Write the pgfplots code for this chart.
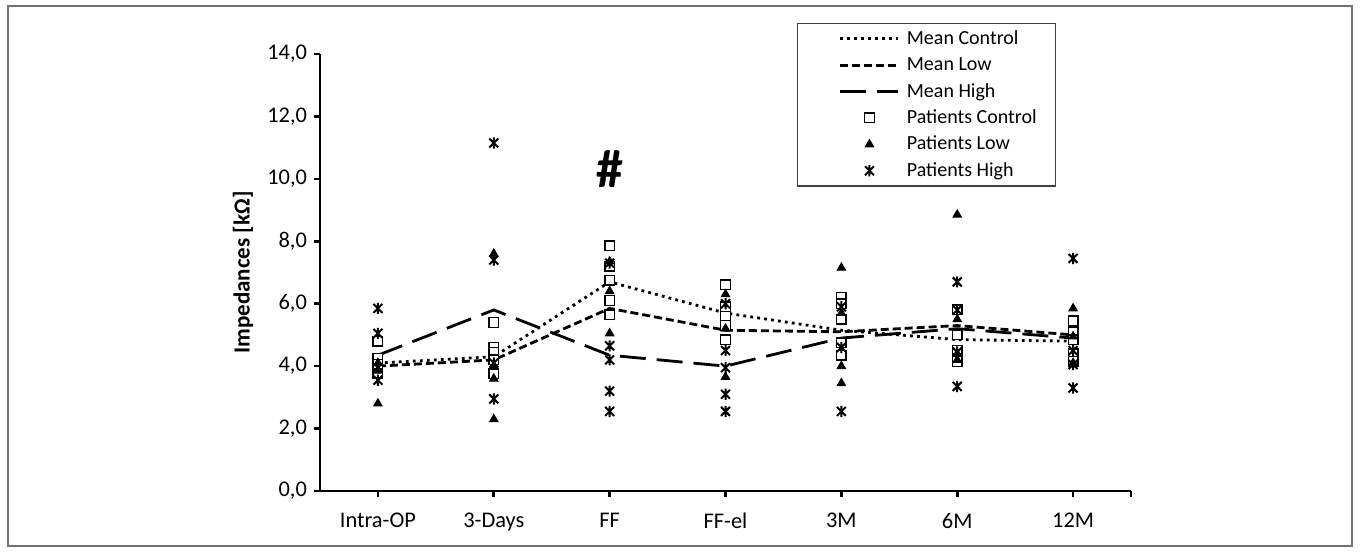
\documentclass[border=0pt]{standalone}
\usepackage{pgfplots}
\pgfplotsset{compat=1.18}
\usepackage{fontspec}
\setmainfont{Carlito}

% Excel-like star marker: an X with a vertical bar through it
\pgfdeclareplotmark{xstar}{%
  \pgfpathmoveto{\pgfqpoint{0pt}{-\pgfplotmarksize}}%
  \pgfpathlineto{\pgfqpoint{0pt}{\pgfplotmarksize}}%
  \pgfpathmoveto{\pgfqpoint{-0.8\pgfplotmarksize}{-0.8\pgfplotmarksize}}%
  \pgfpathlineto{\pgfqpoint{0.8\pgfplotmarksize}{0.8\pgfplotmarksize}}%
  \pgfpathmoveto{\pgfqpoint{-0.8\pgfplotmarksize}{0.8\pgfplotmarksize}}%
  \pgfpathlineto{\pgfqpoint{0.8\pgfplotmarksize}{-0.8\pgfplotmarksize}}%
  \pgfusepathqstroke}

\begin{document}
\begin{tikzpicture}
\path (0pt,0pt) rectangle (680pt,276pt);
\draw[black!55, line width=0.8pt] (4pt,3pt) rectangle (676pt,273pt);
\begin{axis}[
    at={(160pt,30.5pt)}, anchor=south west,
    scale only axis, width=405.5pt, height=218.5pt,
    xmin=-0.5, xmax=6.5, ymin=0, ymax=14,
    clip=false,
    axis x line*=bottom, axis y line*=left,
    axis line style={line width=1.3pt, black},
    tick style={line width=1.3pt, black},
    tick align=outside, major tick length=3pt,
    xtick={0,1,2,3,4,5,6,6.5},
    xticklabels={Intra-OP,3-Days,FF,FF-el,3M,6M,12M,},
    ytick={0,2,...,14},
    yticklabel style={/pgf/number format/.cd, fixed, fixed zerofill, precision=1, use comma, assume math mode=true},
    ticklabel style={font=\fontsize{11.2}{13}\selectfont},
    xticklabel style={yshift=-4.5pt},
    ylabel={Impedances [kΩ]},
    ylabel style={font=\fontsize{11.5}{13}\selectfont\bfseries, at={(rel axis cs:-0.095,0.5)}, anchor=center},
    legend image code/.code={\path[draw=none] (0pt,0pt) -- (1pt,0pt);
      \draw[mark repeat=2, mark phase=2, #1] plot coordinates {(12pt,0pt) (26.5pt,0pt) (41pt,0pt)};},
    legend style={at={(0.588,1.071)}, anchor=north west, draw=black!75, line width=0.6pt,
      inner xsep=9.5pt, inner ysep=1pt, row sep=0pt, column sep=3.5pt,
      font=\fontsize{10}{12}\selectfont,
      nodes={inner sep=0pt, minimum height=13.2pt}},
    legend cell align=left
]
% means
\addplot[black, line width=1.4pt, dash pattern=on 1.4pt off 2.1pt] coordinates {
  (0,4.1) (1,4.3) (2,6.7) (3,5.7) (4,5.15) (5,4.85) (6,4.8)};
\addplot[black, line width=1.4pt, dash pattern=on 4pt off 2pt] coordinates {
  (0,4.0) (1,4.2) (2,5.85) (3,5.15) (4,5.1) (5,5.3) (6,5.0)};
\addplot[black, line width=1.4pt, dash pattern=on 13pt off 5.5pt] coordinates {
  (0,4.35) (1,5.8) (2,4.35) (3,4.0) (4,4.9) (5,5.2) (6,4.9)};
% patients control
\addplot[only marks, mark=square*, mark size=2.4pt, line width=0.7pt, draw=black, fill=white] coordinates {
  (0,4.8) (0,4.25) (0,4.05) (0,3.9) (0,3.75)
  (1,5.4) (1,4.6) (1,4.45) (1,4.2) (1,3.75)
  (2,7.85) (2,7.2) (2,6.75) (2,6.1) (2,5.65)
  (3,6.6) (3,5.9) (3,5.6) (3,5.3) (3,4.85)
  (4,6.2) (4,6.0) (4,5.5) (4,4.75) (4,4.35)
  (5,5.8) (5,5.0) (5,4.5) (5,4.25) (5,4.15)
  (6,5.45) (6,5.1) (6,4.85) (6,4.4) (6,4.15)};
% patients low
\addplot[only marks, mark=triangle*, mark size=2.4pt, line width=0.5pt, black] coordinates {
  (0,4.1) (0,3.85) (0,2.8)
  (1,7.6) (1,4.0) (1,3.6) (1,2.3)
  (2,7.35) (2,6.4) (2,5.05)
  (3,6.3) (3,5.2) (3,3.65)
  (4,7.15) (4,5.7) (4,4.0) (4,3.45)
  (5,8.85) (5,5.5) (5,4.4) (5,4.2)
  (6,5.85) (6,4.95) (6,4.1)};
% patients high
\addplot[only marks, mark=xstar, mark size=2.8pt, line width=1pt, black] coordinates {
  (0,5.85) (0,5.05) (0,3.95) (0,3.55)
  (1,11.15) (1,7.4) (1,4.1) (1,2.95)
  (2,7.3) (2,4.65) (2,4.2) (2,3.2) (2,2.55)
  (3,6.0) (3,4.5) (3,3.95) (3,3.1) (3,2.55)
  (4,5.9) (4,4.6) (4,2.55)
  (5,6.7) (5,5.8) (5,4.45) (5,3.35)
  (6,7.45) (6,4.5) (6,4.05) (6,3.3)};
\legend{Mean Control,Mean Low,Mean High,Patients Control,Patients Low,Patients High}
\node[font=\fontsize{27}{27}\selectfont\bfseries] at (axis cs:2,10.3) {\#};
\end{axis}
\end{tikzpicture}
\end{document}
